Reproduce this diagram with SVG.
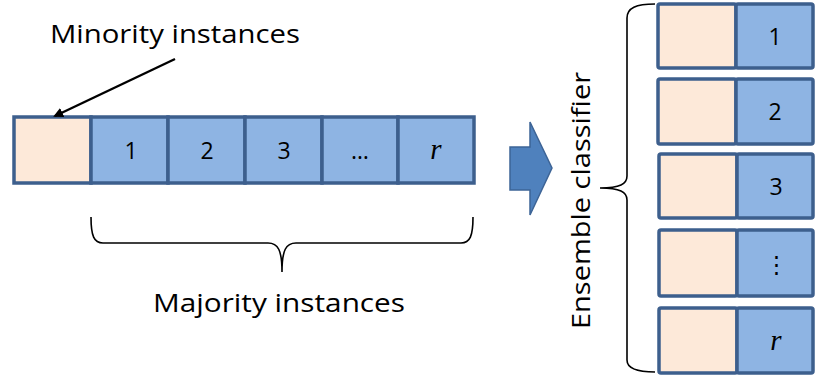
<svg xmlns="http://www.w3.org/2000/svg" width="817" height="382" viewBox="0 0 817 382">
<style>
.cell{stroke:#3d5f8d;stroke-width:3.5}
.maj{fill:#8eb4e3}
.min{fill:#fde9d9}
.lbl{font-family:"Open Sans","Liberation Sans",sans-serif;fill:#000}
.num{font-family:"Open Sans","Liberation Sans",sans-serif;font-size:23px;text-anchor:middle;fill:#000}
.r{font-family:"Liberation Serif",serif;font-style:italic;font-size:29px;text-anchor:middle;fill:#000}
.brace{fill:none;stroke:#000;stroke-width:1.6}
</style>
<defs>
<marker id="ah" markerWidth="10" markerHeight="10" refX="8" refY="5" orient="auto" markerUnits="userSpaceOnUse" viewBox="0 0 10 10">
<path d="M0,0 L10,5 L0,10 z" fill="#000"/>
</marker>
</defs>
<g id="label-minority"><text class="lbl" x="50" y="43" font-size="26" textLength="250" lengthAdjust="spacingAndGlyphs">Minority instances</text></g>
<g id="bar">
<rect class="cell min" x="14" y="117" width="77" height="66"/>
<rect class="cell maj" x="91" y="117" width="77" height="66"/>
<rect class="cell maj" x="168" y="117" width="77" height="66"/>
<rect class="cell maj" x="245" y="117" width="77" height="66"/>
<rect class="cell maj" x="322" y="117" width="76" height="66"/>
<rect class="cell maj" x="398" y="117" width="76" height="66"/>
<text class="num" x="131" y="159">1</text>
<text class="num" x="207" y="159">2</text>
<text class="num" x="284" y="159">3</text>
<text class="num" x="360" y="159">…</text>
<text class="r" x="436" y="159">r</text>
</g>
<g id="connectors">
<line x1="175" y1="59" x2="55" y2="116" stroke="#000" stroke-width="2.4" marker-end="url(#ah)"/>
</g>
<g id="brace-majority">
<path class="brace" d="M91,217 C91,236 94,243 103,243 L268,243 C278,243 282,250 282,272 C282,250 286,243 296,243 L461,243 C470,243 473,236 473,217"/>
</g>
<g id="label-majority"><text class="lbl" x="153" y="312" font-size="26" textLength="252" lengthAdjust="spacingAndGlyphs">Majority instances</text></g>
<g id="big-arrow">
<path d="M510,147 L530,147 L530,122 L552,168 L530,215 L530,190 L510,190 z" fill="#4f81bd" stroke="#3d6496" stroke-width="1.5"/>
</g>
<g id="brace-ensemble">
<path class="brace" d="M655,4 C636,4 627,8 627,18 L627,176 C627,184 620,188 600,188 C620,188 627,192 627,200 L627,360 C627,368 636,372 655,372"/>
</g>
<g id="label-ensemble"><text class="lbl" font-size="26" transform="translate(590,329) rotate(-90)" textLength="257" lengthAdjust="spacingAndGlyphs">Ensemble classifier</text></g>
<g id="clf1">
<rect class="cell min" x="658" y="4" width="78" height="64" rx="2"/>
<rect class="cell maj" x="736" y="4" width="77" height="64" rx="2"/>
<text class="num" x="775" y="45">1</text>
</g>
<g id="clf2">
<rect class="cell min" x="658" y="79" width="78" height="65" rx="2"/>
<rect class="cell maj" x="736" y="79" width="77" height="65" rx="2"/>
<text class="num" x="775" y="120">2</text>
</g>
<g id="clf3">
<rect class="cell min" x="659" y="154" width="78" height="64" rx="2"/>
<rect class="cell maj" x="737" y="154" width="76" height="64" rx="2"/>
<text class="num" x="776" y="195">3</text>
</g>
<g id="clf4">
<rect class="cell min" x="659" y="230" width="78" height="66" rx="2"/>
<rect class="cell maj" x="737" y="230" width="76" height="66" rx="2"/>
<text class="num" x="776" y="272">⋮</text>
</g>
<g id="clf5">
<rect class="cell min" x="659" y="308" width="78" height="65" rx="2"/>
<rect class="cell maj" x="737" y="308" width="76" height="65" rx="2"/>
<text class="r" x="776" y="350">r</text>
</g>
</svg>
